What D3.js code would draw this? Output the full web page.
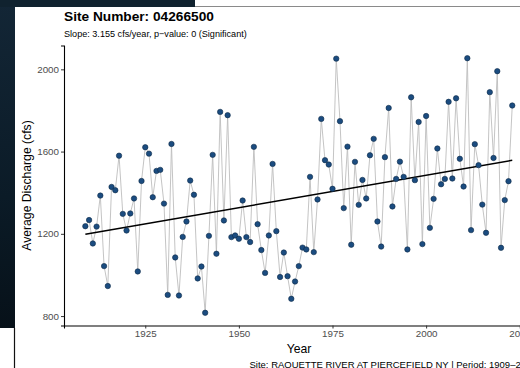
<!DOCTYPE html>
<html>
<head>
<meta charset="utf-8">
<script src="https://cdn.jsdelivr.net/npm/d3@7"></script>
<style>
  html, body { margin: 0; padding: 0; background: #fff; }
  svg { display: block; font-family: "Liberation Sans", Arial, sans-serif; }
</style>
</head>
<body>
<svg id="chart" width="520" height="368"></svg>
<script>
// Annual mean discharge, Raquette River at Piercefield NY (USGS 04266500)
const years = d3.range(1909, 2024);
const discharge = [
  1237, 1267, 1153, 1235, 1386, 1043, 946, 1428, 1412, 1580,
  1297, 1216, 1299, 1372, 1017, 1457, 1621, 1590, 1378, 1506,
  1511, 1347, 903, 1637, 1085, 900, 1185, 1260, 1459, 1390,
  983, 1041, 816, 1190, 1584, 1103, 1793, 1265, 1777, 1184,
  1192, 1176, 1362, 1184, 1160, 1623, 1247, 1121, 1010, 1192,
  1540, 1213, 990, 1109, 994, 884, 968, 1043, 1133, 1124,
  1477, 1111, 1367, 1759, 1558, 1537, 1419, 2052, 1748, 1325,
  1624, 1147, 1550, 1341, 1462, 1372, 1582, 1662, 1260, 1138,
  1573, 1812, 1333, 1467, 1551, 1477, 1124, 1864, 1461, 1744,
  1150, 1773, 1229, 1370, 1615, 1441, 1467, 1842, 1469, 1859,
  1565, 1430, 2054, 1218, 1636, 1534, 1342, 1205, 1889, 1569,
  1991, 1132, 1364, 1456, 1824
];
const xTicks = [1925, 1950, 1975, 2000, 2025];
const yTicks = [800, 1200, 1600, 2000];

const titleText = "Site Number: 04266500";
const subtitleText = "Slope: 3.155 cfs/year, p\u2212value: 0 (Significant)";
const captionText = "Site: RAQUETTE RIVER AT PIERCEFIELD NY | Period: 1909\u20132023";

const data = years.map((y, i) => ({ year: y, q: discharge[i] }));

const svg = d3.select("#chart");

// window backdrop around the plot device
const defs = svg.append("defs");
const grad = defs.append("linearGradient").attr("id", "desk")
  .attr("x1", 0).attr("y1", 0).attr("x2", 0).attr("y2", 1);
grad.append("stop").attr("offset", "0%").attr("stop-color", "#132636");
grad.append("stop").attr("offset", "60%").attr("stop-color", "#0b1b27");
grad.append("stop").attr("offset", "100%").attr("stop-color", "#071119");
svg.append("rect").attr("x", 0).attr("y", 0).attr("width", 15).attr("height", 328).attr("fill", "url(#desk)");
svg.append("rect").attr("x", 0).attr("y", 0).attr("width", 195).attr("height", 7).attr("fill", "#10222f");
svg.append("line").attr("x1", 195).attr("x2", 520).attr("y1", 6.5).attr("y2", 6.5)
  .attr("stroke", "#8a8a8a").attr("stroke-width", 1.2);
svg.append("line").attr("x1", 14.5).attr("x2", 14.5).attr("y1", 328).attr("y2", 368)
  .attr("stroke", "#111").attr("stroke-width", 1.2);

// scales (ggplot-style 5% expansion)
const xExt = d3.extent(years), yExt = d3.extent(discharge);
const xPad = (xExt[1] - xExt[0]) * 0.05, yPad = (yExt[1] - yExt[0]) * 0.05;
const panelLeft = 64, panelBottom = 325.5, panelTop = 45.5;
const x = d3.scaleLinear().domain([xExt[0] - xPad, xExt[1] + xPad]).range([panelLeft, 533.6]);
const y = d3.scaleLinear().domain([yExt[0] - yPad, yExt[1] + yPad]).range([panelBottom, panelTop]);

// least-squares trend
const mx = d3.mean(data, d => d.year), my = d3.mean(data, d => d.q);
const sxy = d3.sum(data, d => (d.year - mx) * (d.q - my));
const sxx = d3.sum(data, d => (d.year - mx) ** 2);
const slope = sxy / sxx, intercept = my - slope * mx;

const plot = svg.append("g");

// series line
plot.append("path").datum(data)
  .attr("fill", "none").attr("stroke", "#bdbdbd").attr("stroke-width", 0.9)
  .attr("d", d3.line().x(d => x(d.year)).y(d => y(d.q)));

// trend line
plot.append("line")
  .attr("x1", x(xExt[0])).attr("y1", y(intercept + slope * xExt[0]))
  .attr("x2", x(xExt[1])).attr("y2", y(intercept + slope * xExt[1]))
  .attr("stroke", "#000").attr("stroke-width", 1.6);

// points
plot.selectAll("circle").data(data).join("circle")
  .attr("cx", d => x(d.year)).attr("cy", d => y(d.q)).attr("r", 2.7)
  .attr("fill", "#1b4c80").attr("stroke", "#0e2a47").attr("stroke-width", 0.6);

// axes
const xAxis = svg.append("g").attr("transform", `translate(0,${panelBottom})`)
  .call(d3.axisBottom(x).tickValues(xTicks).tickFormat(d3.format("d")).tickSize(3).tickPadding(2));
const yAxis = svg.append("g").attr("transform", `translate(${panelLeft},0)`)
  .call(d3.axisLeft(y).tickValues(yTicks).tickFormat(d3.format("d")).tickSize(3).tickPadding(2));
[xAxis, yAxis].forEach(g => {
  g.select(".domain").attr("stroke", "#000").attr("stroke-width", 1.1);
  g.selectAll(".tick line").attr("stroke", "#333").attr("stroke-width", 1);
  g.selectAll(".tick text").attr("fill", "#4d4d4d").attr("font-size", 9.8)
    .attr("font-family", "Liberation Sans, Arial, sans-serif");
});

// titles
svg.append("text").attr("x", 64).attr("y", 21).attr("font-size", 13.7).attr("font-weight", "bold")
  .attr("fill", "#000").text(titleText);
svg.append("text").attr("x", 64).attr("y", 37).attr("font-size", 9.1)
  .attr("fill", "#000").text(subtitleText);
svg.append("text").attr("x", 299).attr("y", 353).attr("text-anchor", "middle")
  .attr("font-size", 12.2).attr("fill", "#000").text("Year");
svg.append("text").attr("transform", `translate(31,${(panelTop + panelBottom) / 2}) rotate(-90)`)
  .attr("text-anchor", "middle").attr("font-size", 12.2).attr("fill", "#000")
  .text("Average Discharge (cfs)");
svg.append("text").attr("x", 249.5).attr("y", 367.5).attr("font-size", 9.5)
  .attr("fill", "#000").text(captionText);
</script>
</body>
</html>
